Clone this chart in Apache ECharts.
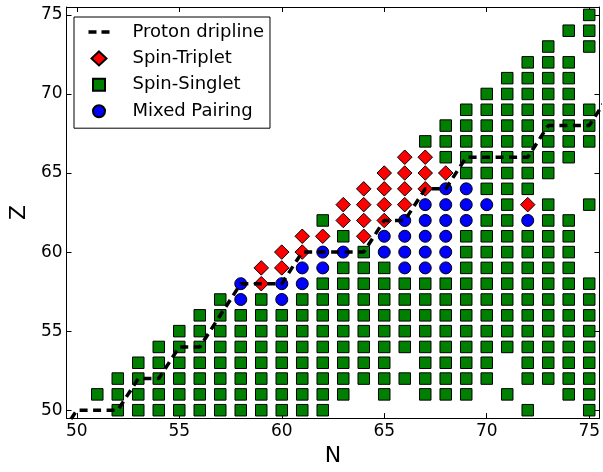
<!DOCTYPE html>
<html><head><meta charset="utf-8">
<script src="https://cdn.jsdelivr.net/npm/echarts@6/dist/echarts.min.js"></script>
<style>html,body{margin:0;padding:0;background:#fff}#c{width:603px;height:472px}</style>
</head><body><div id="c"></div>
<script>
// Proton number rows (Z) and the neutron numbers (N) of spin-singlet nuclei in each row
const zValues = [50,51,52,53,54,55,56,57,58,59,60,61,62,63,64,65,66,67,68,69,70,71,72,73,74,75];
const singletNByZ = [
  [52,53,54,55,56,57,58,59,60,61,62,72,75],
  [51,52,53,54,55,56,57,58,59,60,61,62,63,65,67,68,69,71,74,75],
  [52,53,54,55,56,57,58,59,60,61,62,63,64,65,66,67,68,69,70,72,73,74,75],
  [53,54,55,56,57,58,59,60,61,62,63,64,65,67,68,69,70,72,73,74,75],
  [54,55,56,57,58,59,60,61,62,63,64,65,66,67,68,69,70,71,72,73,74,75],
  [55,56,57,58,59,60,61,62,63,64,65,66,67,68,69,70,71,72,73,74,75],
  [56,57,58,59,60,61,62,63,64,65,66,67,68,69,70,71,72,73,74,75],
  [57,59,61,62,63,64,65,66,67,68,69,70,71,72,73,74,75],
  [62,63,64,65,66,67,68,69,70,71,72,73,74,75],
  [63,64,65,69,70,71,72,73,74],
  [64,69,70,71,72,73,74],
  [63,69,70,71,72,73,74],
  [62,70,71,73,74],
  [71,73,75],
  [70,71,72],
  [69,70,71,72,73],
  [68,69,70,71,72,73,74],
  [67,68,69,70,71,72,73,74,75],
  [68,69,70,71,72,73,74,75],
  [69,70,71,72,73,74,75],
  [70,71,72,73,74],
  [71,72,73,74],
  [72,73,74],
  [73,75],
  [74,75],
  [75]
];
// [N, Z]
const tripletPoints = [
  [59,58],[59,59],[60,59],[60,60],[61,60],[61,61],[62,61],[63,62],[63,63],
  [64,61],[64,62],[64,63],[64,64],[65,62],[65,63],[65,64],[65,65],
  [66,63],[66,64],[66,65],[66,66],[67,64],[67,65],[67,66],[68,65],[72,63]
];
const mixedPoints = [
  [58,57],[58,58],[60,57],[60,58],[61,58],[61,59],[62,59],[62,60],[63,60],
  [65,60],[65,61],[66,59],[66,60],[66,61],[66,62],
  [67,59],[67,60],[67,61],[67,62],[67,63],
  [68,59],[68,60],[68,61],[68,62],[68,63],[68,64],
  [69,62],[69,63],[69,64],[70,63],[72,62]
];
const driplinePoints = [
  [49,48],[50,50],[52,50],[53,52],[54,52],[55,54],[56,54],[57,56],[58,58],[60,58],
  [61,60],[64,60],[65,62],[66,62],[67,64],[68,64],[69,66],[72,66],[73,68],[75,68],[76,70]
];
const tickValues = [50,55,60,65,70,75];
const yTickValues = [50,55,60,65,70,75];

const singletPoints = [];
zValues.forEach((z, i) => singletNByZ[i].forEach(n => singletPoints.push([n, z])));

const FONT = 'DejaVu Sans';
const axisCommon = {
  type: 'value', min: 49.5, max: 75.5,
  axisLine: { show: true, onZero: false, lineStyle: { color: '#000', width: 1 } },
  splitLine: { show: false }
};
function mkAxis(extra, showLabel, isX) {
  return Object.assign({}, axisCommon, {
    axisTick: { show: true, inside: true, length: 5, lineStyle: { color: '#000' }, customValues: isX ? tickValues : yTickValues },
    axisLabel: { show: showLabel, customValues: isX ? tickValues : yTickValues, color: '#000', fontFamily: FONT, fontSize: 17, margin: isX ? 5 : 4 }
  }, extra);
}

const chart = echarts.init(document.getElementById('c'), null, { renderer: 'canvas' });
chart.setOption({
  animation: false,
  backgroundColor: '#fff',
  grid: { left: 65, right: 2, top: 7, bottom: 50, containLabel: false },
  xAxis: [
    mkAxis({ position: 'bottom', name: 'N', nameLocation: 'middle', nameGap: 26,
      nameTextStyle: { fontFamily: FONT, fontSize: 22, color: '#000' } }, true, true),
    mkAxis({ position: 'top' }, false, true)
  ],
  yAxis: [
    mkAxis({ position: 'left', name: 'Z', nameLocation: 'middle', nameGap: 31, nameRotate: 90,
      nameTextStyle: { fontFamily: FONT, fontSize: 22, color: '#000' } }, true, false),
    mkAxis({ position: 'right' }, false, false)
  ],
  legend: {
    orient: 'vertical', left: 74, top: 17,
    padding: [6, 6, 8, 14.5],
    itemWidth: 21, itemHeight: 16, itemGap: 8.4,
    backgroundColor: '#fff', borderColor: '#000', borderWidth: 1, borderRadius: 0,
    textStyle: { fontFamily: FONT, fontSize: 18, color: '#000', padding: [0, 0, 0, 18] },
    data: [
      { name: 'Proton dripline', icon: 'path://M0,0L8,0L8,3.5L0,3.5ZM13,0L21,0L21,3.5L13,3.5Z',
        itemStyle: { color: '#000', borderWidth: 0 } },
      { name: 'Spin-Triplet', icon: 'path://M0,0M16,16M8,1L15.5,8L8,15L0.5,8Z' },
      { name: 'Spin-Singlet', icon: 'path://M0,0M16,16M2,2L14,2L14,14L2,14Z' },
      { name: 'Mixed Pairing', icon: 'path://M0,0M16,16M2,8A6,6,0,1,1,14,8A6,6,0,1,1,2,8Z' }
    ]
  },
  series: [
    { name: 'Spin-Singlet', type: 'scatter', data: singletPoints, symbol: 'rect', symbolSize: 11.5, z: 2,
      itemStyle: { color: '#008000', borderColor: '#000', borderWidth: 1, opacity: 1 } },
    { name: 'Spin-Triplet', type: 'scatter', data: tripletPoints, symbol: 'diamond', symbolSize: 14.5, z: 3,
      itemStyle: { color: '#ff0000', borderColor: '#000', borderWidth: 1, opacity: 1 } },
    { name: 'Mixed Pairing', type: 'scatter', data: mixedPoints, symbol: 'circle', symbolSize: 12, z: 3,
      itemStyle: { color: '#0000ff', borderColor: '#000', borderWidth: 1, opacity: 1 } },
    { name: 'Proton dripline', type: 'line', data: driplinePoints, symbol: 'none', z: 5, clip: true,
      itemStyle: { color: '#000' },
      lineStyle: { color: '#000', width: 3.5, type: [8, 5.5], cap: 'butt' } }
  ]
});
</script>
</body></html>
